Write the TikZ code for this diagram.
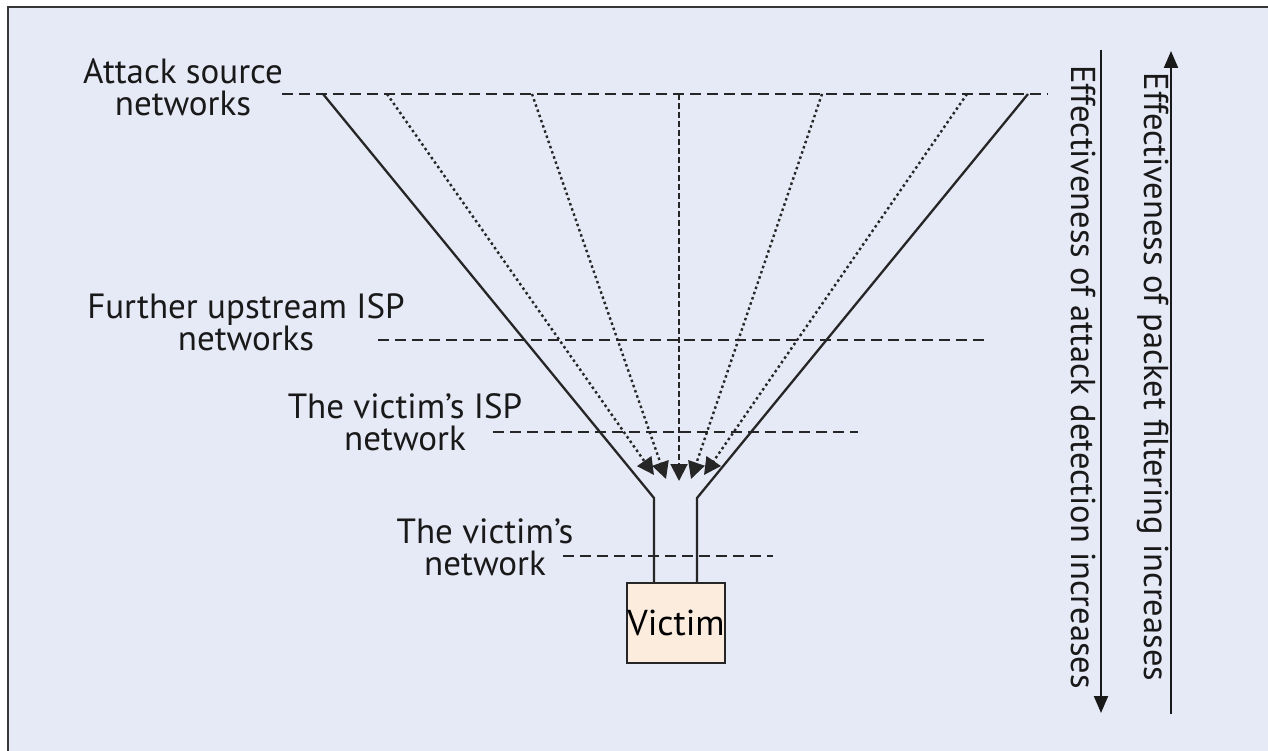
\documentclass[tikz,border=0pt]{standalone}
\usepackage{fontspec}
\setmainfont{PT Sans}
\usetikzlibrary{arrows.meta}
\definecolor{bg}{RGB}{230,233,246}
\definecolor{victimfill}{RGB}{252,236,222}
\definecolor{framec}{RGB}{55,55,55}
\newcommand{\apos}{{\char"27}}
\begin{document}
\begin{tikzpicture}[x=1pt,y=-1pt,
  lbl/.style={font=\fontsize{35}{32}\selectfont, align=center, anchor=base, inner sep=0pt, text=black!90},
  vlbl/.style={font=\fontsize{34.5}{36}\selectfont, rotate=-90, inner sep=0pt, text=black!90},
  level/.style={line width=1.8pt, dash pattern=on 11pt off 6pt, black!85},
  funnel/.style={line width=2.3pt, black!85},
  flow/.style={line width=2.4pt, dash pattern=on 2.5pt off 3pt, black!85, -{Triangle[length=17pt,width=17pt]}},
  flowmid/.style={line width=2pt, dash pattern=on 6pt off 3pt, black!85, -{Triangle[length=17pt,width=17pt]}},
  axisarrow/.style={line width=2pt, black!90, -{Triangle[length=17pt,width=14pt]}},
  victimbox/.style={draw=black!85, line width=2.3pt, fill=victimfill, minimum width=94pt, minimum height=80pt, inner sep=0pt, font=\fontsize{36}{38}\selectfont}
]
\useasboundingbox (0,0) rectangle (1268,751);
\fill[bg] (8,7) rectangle (1268,751);
\draw[framec, line width=2.5pt] (8,751) -- (8,7) -- (1268,7);

% level labels (base = baseline of last line)
\node[lbl] (src) at (183,116) {Attack source\\networks};
\node[lbl] (ups) at (246,350) {Further upstream ISP\\networks};
\node[lbl] (isp) at (405,450) {The victim\apos s ISP\\network};
\node[lbl] (vnet) at (485,575) {The victim\apos s\\network};

% dashed level lines
\coordinate (la0) at (282,94);  \coordinate (la1) at (1048,94);
\coordinate (lb0) at (378,340); \coordinate (lb1) at (990,340);
\coordinate (lc0) at (493,432); \coordinate (lc1) at (858,432);
\coordinate (ld0) at (563,556); \coordinate (ld1) at (773,556);
\draw[level] (la0) -- (la1);
\draw[level] (lb0) -- (lb1);
\draw[level] (lc0) -- (lc1);
\draw[level] (ld0) -- (ld1);

% victim
\node[victimbox] (victim) at (676,623) {Victim};

% funnel
\coordinate (fl0) at (323,94);  \coordinate (fl1) at (654,498);
\coordinate (fr0) at (1028,94); \coordinate (fr1) at (697,498);
\draw[funnel] (fl0) -- (fl1) -- (fl1 |- victim.north);
\draw[funnel] (fr0) -- (fr1) -- (fr1 |- victim.north);

% attack flows
\coordinate (s1) at (387,94); \coordinate (t1) at (654,475);
\coordinate (s2) at (532,94); \coordinate (t2) at (666,479);
\coordinate (s3) at (679,94); \coordinate (t3) at (679,481);
\coordinate (s4) at (822,94); \coordinate (t4) at (691,479);
\coordinate (s5) at (967,94); \coordinate (t5) at (704,475);
\draw[flow] (s1) -- (t1);
\draw[flow] (s2) -- (t2);
\draw[flowmid] (s3) -- (t3);
\draw[flow] (s4) -- (t4);
\draw[flow] (s5) -- (t5);

% effectiveness axes
\coordinate (det0) at (1101,50);  \coordinate (det1) at (1101,713);
\coordinate (fil0) at (1171,714); \coordinate (fil1) at (1171,51);
\draw[axisarrow] (det0) -- (det1);
\draw[axisarrow] (fil0) -- (fil1);
\node[vlbl] (dettext) at (1083,377) {Effectiveness of attack detection increases};
\node[vlbl] (filtext) at (1153,377) {Effectiveness of packet filtering increases};
\end{tikzpicture}
\end{document}
